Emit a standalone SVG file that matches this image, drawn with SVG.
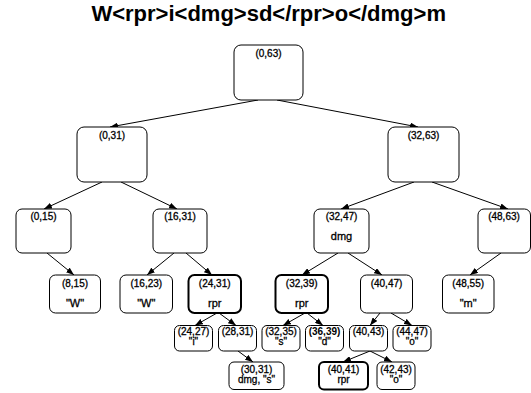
<svg xmlns="http://www.w3.org/2000/svg" width="531" height="393" viewBox="0 0 531 393">
<style>
.b{fill:#fff;stroke:#000;stroke-width:1}
.t{stroke-width:2}
text{font-family:"Liberation Sans",Arial,sans-serif;fill:#000;text-anchor:middle;stroke:#000;stroke-width:0.3}
.l{font-size:10px}
.s{font-size:10px}
.v{font-size:11px}
.w{font-weight:bold;stroke-width:0}
.e{fill:none;stroke:#000;stroke-width:1;marker-end:url(#a)}
</style>
<defs>
<marker id="a" markerUnits="userSpaceOnUse" markerWidth="8" markerHeight="6" refX="8" refY="3" orient="auto">
<path d="M0,0 L8,3 L0,6 Z" fill="#000"/>
</marker>
</defs>
<rect width="531" height="393" fill="#fff"/>
<text x="268.7" y="21" class="w" style="font-size:22px">W&lt;rpr&gt;i&lt;dmg&gt;sd&lt;/rpr&gt;o&lt;/dmg&gt;m</text>
<g id="edges">
<path class="e" d="M258,100 L110,127"/>
<path class="e" d="M277,100 L418,127"/>
<path class="e" d="M102,182 L44,209"/>
<path class="e" d="M121,182 L177,209"/>
<path class="e" d="M414,182 L341,209"/>
<path class="e" d="M432,182 L508,209"/>
<path class="e" d="M47,253 L74,275"/>
<path class="e" d="M174,253 L147,275"/>
<path class="e" d="M186,253 L212,275"/>
<path class="e" d="M338,253 L302,275"/>
<path class="e" d="M348,253 L382,275"/>
<path class="e" d="M501,253 L470,275"/>
<path class="e" d="M217,313 L195,325.5"/>
<path class="e" d="M219,313 L236,325.5"/>
<path class="e" d="M305,313 L283,325.5"/>
<path class="e" d="M307,313 L323,325.5"/>
<path class="e" d="M380,313 L370,325.5"/>
<path class="e" d="M391,313 L412,325.5"/>
<path class="e" d="M238,351 L253,362"/>
<path class="e" d="M370,351 L343,362"/>
<path class="e" d="M370,351 L392,362"/>
</g>
<g id="n0_63"><rect class="b" x="234" y="45" width="69" height="55" rx="7"/><text class="l" x="268.5" y="57">(0,63)</text></g>
<g id="n0_31"><rect class="b" x="77" y="127" width="70" height="55" rx="7"/><text class="l" x="112" y="138.5">(0,31)</text></g>
<g id="n32_63"><rect class="b" x="388" y="127" width="71" height="55" rx="7"/><text class="l" x="423.5" y="138.5">(32,63)</text></g>
<g id="n0_15"><rect class="b" x="16" y="209" width="55" height="44" rx="6"/><text class="l" x="43.5" y="220">(0,15)</text></g>
<g id="n16_31"><rect class="b" x="153" y="209" width="54" height="44" rx="6"/><text class="l" x="180" y="220">(16,31)</text></g>
<g id="n32_47"><rect class="b" x="314" y="209" width="55" height="44" rx="6"/><text class="l" x="341.5" y="220">(32,47)</text><text class="v" x="341.5" y="240">dmg</text></g>
<g id="n48_63"><rect class="b" x="478" y="209" width="52.5" height="44" rx="6"/><text class="l" x="504" y="220">(48,63)</text></g>
<g id="n8_15"><rect class="b" x="49.5" y="275" width="51" height="38" rx="6"/><text class="l" x="75" y="286.7">(8,15)</text><text class="v" x="75" y="307">"W"</text></g>
<g id="n16_23"><rect class="b" x="120" y="275" width="52.5" height="38" rx="6"/><text class="l" x="146.3" y="286.7">(16,23)</text><text class="v" x="146.3" y="307">"W"</text></g>
<g id="n24_31"><rect class="b t" x="188.5" y="275" width="52.5" height="38" rx="6"/><text class="l" x="214.7" y="286.7">(24,31)</text><text class="v" x="214.7" y="307">rpr</text></g>
<g id="n32_39"><rect class="b t" x="275.5" y="275" width="52.5" height="38" rx="6"/><text class="l" x="301.7" y="286.7">(32,39)</text><text class="v" x="301.7" y="307">rpr</text></g>
<g id="n40_47"><rect class="b" x="360.5" y="275" width="52" height="38" rx="6"/><text class="l" x="386.5" y="286.7">(40,47)</text></g>
<g id="n48_55"><rect class="b" x="442.5" y="275" width="51.5" height="38" rx="6"/><text class="l" x="468.2" y="286.7">(48,55)</text><text class="v" x="468.2" y="307">"m"</text></g>
<g id="n24_27"><rect class="b" x="174.5" y="325.5" width="38" height="25.5" rx="5"/><text class="s" x="193.5" y="335">(24,27)</text><text class="s" x="193.5" y="345">"i"</text></g>
<g id="n28_31"><rect class="b" x="218.5" y="325.5" width="38" height="25.5" rx="5"/><text class="s" x="237.5" y="335">(28,31)</text></g>
<g id="n32_35"><rect class="b" x="262" y="325.5" width="38" height="25.5" rx="5"/><text class="s" x="281" y="335">(32,35)</text><text class="s" x="281" y="345">"s"</text></g>
<g id="n36_39"><rect class="b" x="305.5" y="325.5" width="38" height="25.5" rx="5"/><text class="s w" x="324.5" y="335">(36,39)</text><text class="s" x="324.5" y="345">"d"</text></g>
<g id="n40_43"><rect class="b" x="349.5" y="325.5" width="38" height="25.5" rx="5"/><text class="s" x="368.5" y="335">(40,43)</text></g>
<g id="n44_47"><rect class="b" x="393" y="325.5" width="38" height="25.5" rx="5"/><text class="s" x="412" y="335">(44,47)</text><text class="s" x="412" y="345">"o"</text></g>
<g id="n30_31"><rect class="b" x="229" y="362" width="55" height="27.5" rx="5"/><text class="s" x="256.5" y="372.5">(30,31)</text><text class="s" x="256.5" y="383">dmg, "s"</text></g>
<g id="n40_41"><rect class="b t" x="319" y="362" width="49" height="27.5" rx="5"/><text class="s" x="343.5" y="372.5">(40,41)</text><text class="s" x="343.5" y="383">rpr</text></g>
<g id="n42_43"><rect class="b" x="377" y="362" width="38" height="27.5" rx="5"/><text class="s" x="396" y="372.5">(42,43)</text><text class="s" x="396" y="383">"o"</text></g>
</svg>
